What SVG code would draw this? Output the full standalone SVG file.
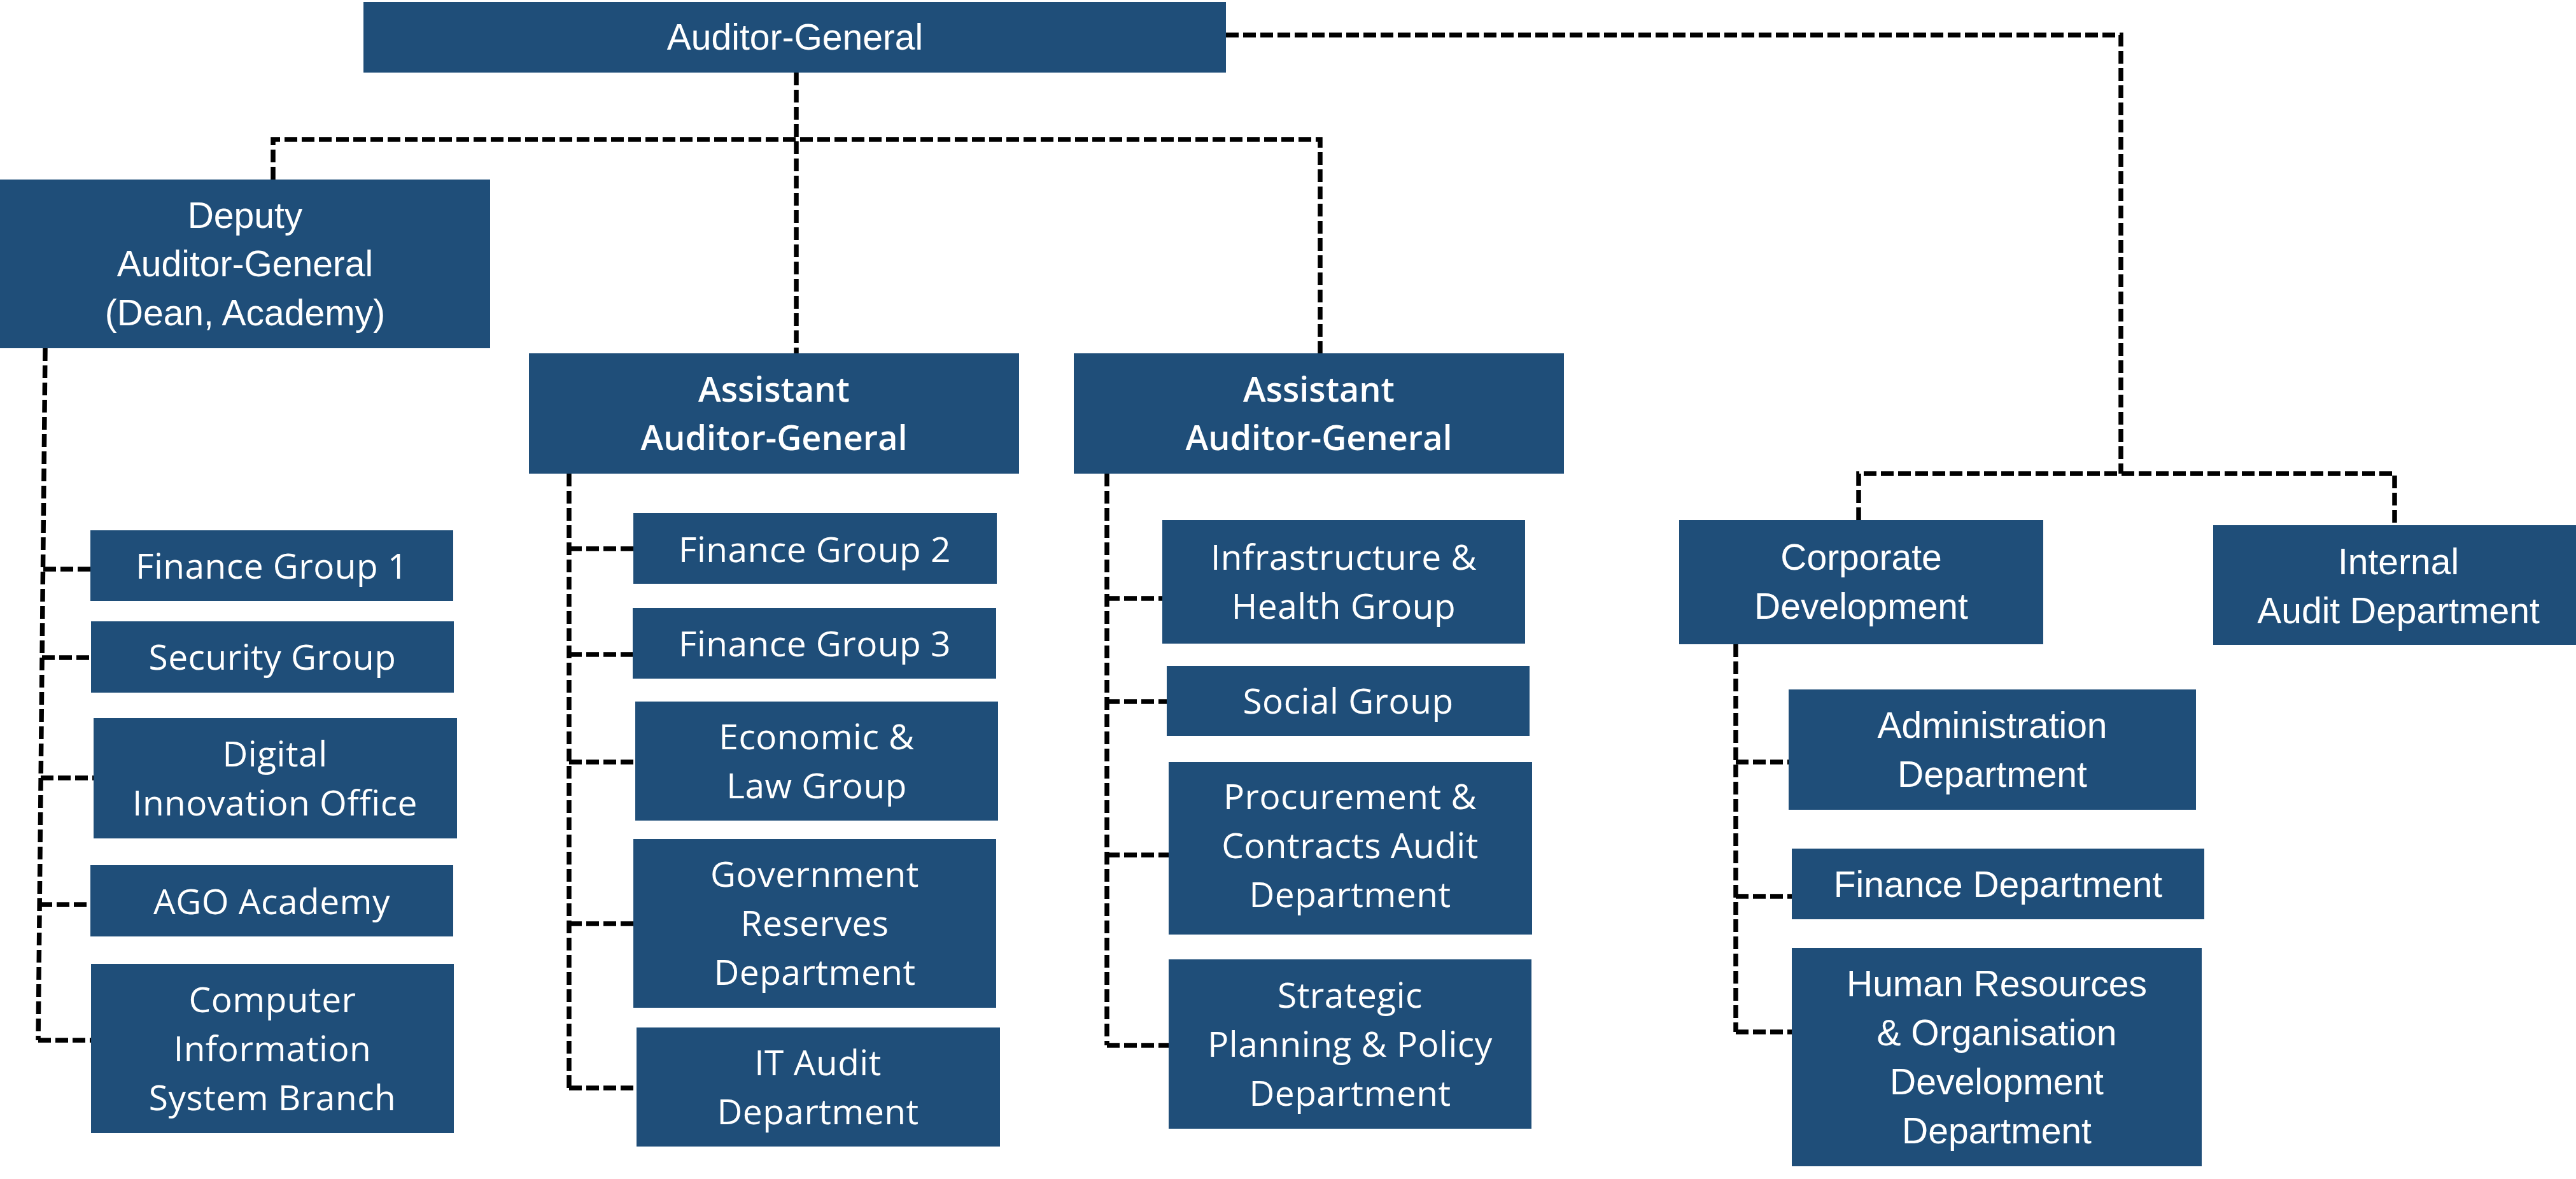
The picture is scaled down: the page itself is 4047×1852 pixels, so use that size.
<svg xmlns="http://www.w3.org/2000/svg" width="4047" height="1852" viewBox="0 0 4047 1852">
<style>
.box{fill:#1F4E79}
.c{font-family:"Liberation Sans",Arial,sans-serif;font-size:57px;fill:#fff;text-anchor:middle}
.w{font-family:"Open Sans","Noto Sans",sans-serif;font-size:55px;letter-spacing:0.5px;fill:#fff;text-anchor:middle}
.b{font-family:"Open Sans","Noto Sans",sans-serif;font-size:54px;font-weight:600;fill:#fff;text-anchor:middle}
.ln{fill:none;stroke:#000;stroke-width:7.5;stroke-dasharray:20 7}
</style>
<rect width="4047" height="1852" fill="#fff"/>
<g id="connectors">
<path class="ln" d="M1926,55 H3332 V744"/>
<path class="ln" d="M2920,817 V744 H3762 V844"/>
<path class="ln" d="M1251,114 V555"/>
<path class="ln" d="M429,282 V219 H2074 V555"/>
<path class="ln" d="M71,547 L60,1634"/>
<path class="ln" d="M68,894 H142"/>
<path class="ln" d="M66,1033 H143"/>
<path class="ln" d="M64,1222 H147"/>
<path class="ln" d="M62,1421 H142"/>
<path class="ln" d="M60,1634 H143"/>
<path class="ln" d="M894,744 V1709"/>
<path class="ln" d="M894,862 H995"/>
<path class="ln" d="M894,1028 H994"/>
<path class="ln" d="M894,1197 H998"/>
<path class="ln" d="M894,1451 H995"/>
<path class="ln" d="M894,1709 H1000"/>
<path class="ln" d="M1739,744 V1642"/>
<path class="ln" d="M1739,940 H1826"/>
<path class="ln" d="M1739,1102 H1833"/>
<path class="ln" d="M1739,1343 H1836"/>
<path class="ln" d="M1739,1642 H1836"/>
<path class="ln" d="M2727,1012 V1621"/>
<path class="ln" d="M2727,1197 H2810"/>
<path class="ln" d="M2727,1408 H2815"/>
<path class="ln" d="M2727,1621 H2815"/>
</g>
<g id="ag"><rect class="box" x="571" y="3" width="1355" height="111"/><text class="c" x="1249" y="78">Auditor-General</text></g>
<g id="deputy"><rect class="box" x="0" y="282" width="770" height="265"/><text class="c" x="385" y="358">Deputy</text><text class="c" x="385" y="434">Auditor-General</text><text class="c" x="385" y="511">(Dean, Academy)</text></g>
<g id="asst1"><rect class="box" x="831" y="555" width="770" height="189"/><text class="b" x="1216" y="631">Assistant</text><text class="b" x="1216" y="707">Auditor-General</text></g>
<g id="asst2"><rect class="box" x="1687" y="555" width="770" height="189"/><text class="b" x="2072" y="631">Assistant</text><text class="b" x="2072" y="707">Auditor-General</text></g>
<g id="corpdev"><rect class="box" x="2638" y="817" width="572" height="195"/><text class="c" x="2924" y="895">Corporate</text><text class="c" x="2924" y="972">Development</text></g>
<g id="internal"><rect class="box" x="3477" y="825" width="570" height="188"/><text class="c" x="3768" y="902">Internal</text><text class="c" x="3768" y="979">Audit Department</text></g>
<g id="fg1"><rect class="box" x="142" y="833" width="570" height="111"/><text class="w" x="427" y="909">Finance Group 1</text></g>
<g id="security"><rect class="box" x="143" y="976" width="570" height="112"/><text class="w" x="428" y="1052">Security Group</text></g>
<g id="digital"><rect class="box" x="147" y="1128" width="571" height="189"/><text class="w" x="432" y="1204">Digital</text><text class="w" x="432" y="1281">Innovation Office</text></g>
<g id="ago"><rect class="box" x="142" y="1359" width="570" height="112"/><text class="w" x="427" y="1436">AGO Academy</text></g>
<g id="cisb"><rect class="box" x="143" y="1514" width="570" height="266"/><text class="w" x="428" y="1590">Computer</text><text class="w" x="428" y="1667">Information</text><text class="w" x="428" y="1744">System Branch</text></g>
<g id="fg2"><rect class="box" x="995" y="806" width="571" height="111"/><text class="w" x="1280" y="883">Finance Group 2</text></g>
<g id="fg3"><rect class="box" x="994" y="955" width="571" height="111"/><text class="w" x="1280" y="1031">Finance Group 3</text></g>
<g id="econ"><rect class="box" x="998" y="1102" width="570" height="187"/><text class="w" x="1283" y="1177">Economic &amp;</text><text class="w" x="1283" y="1254">Law Group</text></g>
<g id="govres"><rect class="box" x="995" y="1318" width="570" height="265"/><text class="w" x="1280" y="1393">Government</text><text class="w" x="1280" y="1470">Reserves</text><text class="w" x="1280" y="1547">Department</text></g>
<g id="itaudit"><rect class="box" x="1000" y="1614" width="571" height="187"/><text class="w" x="1285" y="1689">IT Audit</text><text class="w" x="1285" y="1766">Department</text></g>
<g id="infra"><rect class="box" x="1826" y="817" width="570" height="194"/><text class="w" x="2111" y="895">Infrastructure &amp;</text><text class="w" x="2111" y="972">Health Group</text></g>
<g id="social"><rect class="box" x="1833" y="1046" width="570" height="110"/><text class="w" x="2118" y="1121">Social Group</text></g>
<g id="procurement"><rect class="box" x="1836" y="1197" width="571" height="271"/><text class="w" x="2121" y="1271">Procurement &amp;</text><text class="w" x="2121" y="1348">Contracts Audit</text><text class="w" x="2121" y="1425">Department</text></g>
<g id="strategic"><rect class="box" x="1836" y="1507" width="570" height="266"/><text class="w" x="2121" y="1583">Strategic</text><text class="w" x="2121" y="1660">Planning &amp; Policy</text><text class="w" x="2121" y="1737">Department</text></g>
<g id="admin"><rect class="box" x="2810" y="1083" width="640" height="189"/><text class="c" x="3130" y="1159">Administration</text><text class="c" x="3130" y="1236">Department</text></g>
<g id="findept"><rect class="box" x="2815" y="1333" width="648" height="111"/><text class="c" x="3139" y="1409">Finance Department</text></g>
<g id="hr"><rect class="box" x="2815" y="1489" width="644" height="343"/><text class="c" x="3137" y="1565">Human Resources</text><text class="c" x="3137" y="1642">&amp; Organisation</text><text class="c" x="3137" y="1719">Development</text><text class="c" x="3137" y="1796">Department</text></g>
</svg>
